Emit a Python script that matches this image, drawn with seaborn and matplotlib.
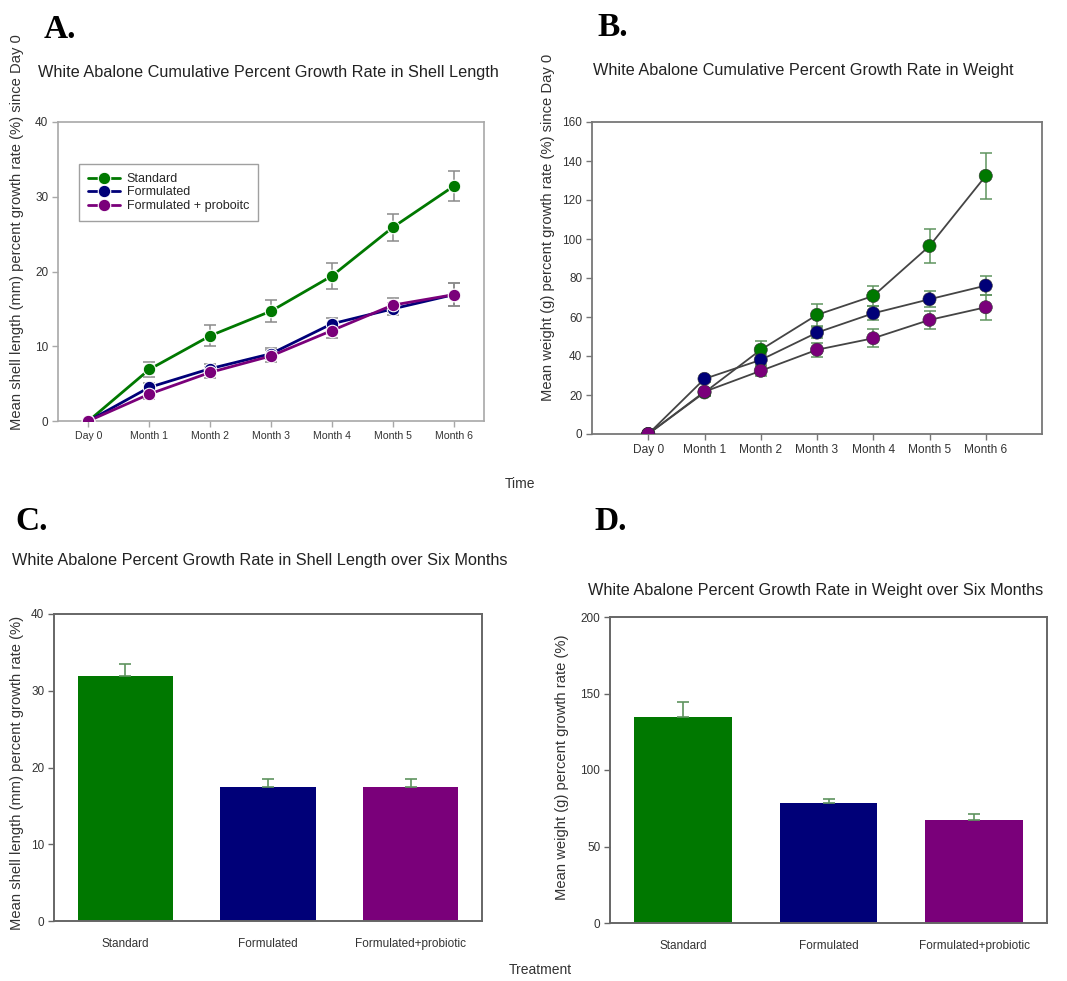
import numpy as np
import pandas as pd
import matplotlib
matplotlib.use("Agg")
import matplotlib.pyplot as plt
import seaborn as sns

# ---- data -------------------------------------------------------------
time_labels = ["Day 0", "Month 1", "Month 2", "Month 3", "Month 4", "Month 5", "Month 6"]
treatments = ["Standard", "Formulated", "Formulated + proboitc"]
bar_labels = ["Standard", "Formulated", "Formulated+probiotic"]

# cumulative % growth in shell length
len_standard = [0, 6.9, 11.4, 14.7, 19.4, 25.9, 31.4]
len_formulated = [0, 4.5, 7.0, 9.0, 13.0, 15.0, 16.9]
len_probiotic = [0, 3.6, 6.5, 8.7, 12.1, 15.5, 16.9]
len_standard_err = [0, 1.0, 1.4, 1.5, 1.8, 1.8, 2.0]
len_formulated_err = [0, 0.6, 0.6, 0.7, 0.8, 0.8, 1.5]
len_probiotic_err = [0, 0.7, 0.7, 0.8, 1.0, 0.9, 1.5]

# cumulative % growth in weight
wt_standard = [0, 21.3, 43.2, 61.1, 70.8, 96.4, 132.4]
wt_formulated = [0, 28.3, 38.0, 52.0, 61.9, 69.1, 76.1]
wt_probiotic = [0, 21.7, 32.4, 43.2, 49.1, 58.5, 65.0]
wt_standard_err = [0, 2.0, 4.5, 5.5, 5.2, 8.7, 11.7]
wt_formulated_err = [0, 1.5, 2.5, 3.0, 3.5, 4.0, 5.0]
wt_probiotic_err = [0, 2.0, 2.5, 3.5, 4.6, 4.7, 6.4]

# six-month totals
six_len = [31.9, 17.5, 17.4]
six_len_err = [1.6, 1.0, 1.1]
six_wt = [134.9, 78.2, 67.1]
six_wt_err = [9.8, 2.8, 3.9]

colors = ["#007800", "#000078", "#7a007a"]

# ---- styling ----------------------------------------------------------
sns.set_theme(style="white")
plt.rcParams["font.family"] = ["Liberation Sans", "DejaVu Sans"]

W, H = 1067, 981
fig = plt.figure(figsize=(W / 100, H / 100), dpi=100)


def rect(x0, y0, x1, y1):
    return [x0 / W, 1 - y1 / H, (x1 - x0) / W, (y1 - y0) / H]


def ftext(x, y, s, **kw):
    fig.text(x / W, 1 - y / H, s, **kw)


def style_axes(ax, edge, lw, xsize=8.5, ysize=8.5):
    for sp in ax.spines.values():
        sp.set_visible(True)
        sp.set_color(edge)
        sp.set_linewidth(lw)
    ax.tick_params(axis="both", which="both", direction="out", length=4,
                   width=1, color=edge, labelcolor="#333333",
                   bottom=True, left=True, top=False, right=False, pad=3)
    ax.tick_params(axis="x", labelsize=xsize)
    ax.tick_params(axis="y", labelsize=ysize)
    ax.set_xlabel("")
    ax.set_ylabel("")


def long_frame(series):
    rows = []
    for name, vals in zip(treatments, series):
        for t, v in zip(time_labels, vals):
            rows.append({"Time": t, "Treatment": name, "value": v})
    return pd.DataFrame(rows)


x_idx = np.arange(len(time_labels))

# ---- A: shell length over time ----------------------------------------
axA = fig.add_axes(rect(58, 122, 484, 421))
dfA = long_frame([len_standard, len_formulated, len_probiotic])
for vals, errs in zip([len_standard, len_formulated, len_probiotic],
                      [len_standard_err, len_formulated_err, len_probiotic_err]):
    axA.errorbar(x_idx[1:], vals[1:], yerr=errs[1:], fmt="none",
                 ecolor="#8a8a8a", elinewidth=1.1, capsize=4, capthick=1.1, zorder=1)
sns.lineplot(data=dfA, x="Time", y="value", hue="Treatment", palette=colors,
             marker="o", markersize=9, markeredgewidth=0.8, linewidth=2.0,
             sort=False, ax=axA, zorder=3)
axA.set_xlim(-0.5, 6.5)
axA.set_ylim(0, 40)
axA.set_yticks([0, 10, 20, 30, 40])
axA.set_xticks(x_idx)
axA.set_xticklabels(time_labels)
style_axes(axA, "#a8a8a8", 1.2, xsize=7.6)
leg = axA.legend(loc="upper left", bbox_to_anchor=(0.035, 0.88), fontsize=9,
                 frameon=True, fancybox=False, edgecolor="#888888",
                 handlelength=2.6, borderpad=0.7, labelspacing=0.12,
                 handletextpad=0.5)
leg.get_frame().set_linewidth(1.0)

# ---- B: weight over time ----------------------------------------------
axB = fig.add_axes(rect(592, 122, 1042, 434))
dfB = long_frame([wt_standard, wt_formulated, wt_probiotic])
sns.lineplot(data=dfB, x="Time", y="value", units="Treatment", estimator=None,
             color="#444444", linewidth=1.3, sort=False, ax=axB, zorder=1)
for vals, errs in zip([wt_standard, wt_formulated, wt_probiotic],
                      [wt_standard_err, wt_formulated_err, wt_probiotic_err]):
    axB.errorbar(x_idx[1:], vals[1:], yerr=errs[1:], fmt="none",
                 ecolor="#5f945f", elinewidth=1.1, capsize=4, capthick=1.1, zorder=2)
sns.scatterplot(data=dfB, x="Time", y="value", hue="Treatment", palette=colors,
                s=90, edgecolor="#333333", linewidth=0.4, ax=axB, zorder=3,
                legend=False)
axB.set_xlim(-1, 7)
axB.set_ylim(0, 160)
axB.set_yticks(np.arange(0, 161, 20))
axB.set_xticks(x_idx)
axB.set_xticklabels(time_labels)
style_axes(axB, "#777777", 1.3, xsize=8.6)

# ---- C / D: six-month bars --------------------------------------------
def bar_panel(box, vals, errs, ylim, yticks):
    ax = fig.add_axes(box)
    dfb = pd.DataFrame({"Treatment": bar_labels, "value": vals})
    sns.barplot(data=dfb, x="Treatment", y="value", hue="Treatment",
                palette=colors, width=0.67, errorbar=None, legend=False,
                saturation=1, edgecolor="none", ax=ax, zorder=2)
    ax.errorbar(np.arange(3), vals, yerr=[np.zeros(3), errs], fmt="none",
                ecolor="#5f945f", elinewidth=1.2, capsize=4, capthick=1.2, zorder=3)
    ax.set_xlim(-0.5, 2.5)
    ax.set_ylim(*ylim)
    ax.set_yticks(yticks)
    style_axes(ax, "#666666", 1.4)
    ax.tick_params(axis="x", length=0, pad=12)
    return ax


axC = bar_panel(rect(54, 614, 482, 921), six_len, six_len_err, (0, 40), [0, 10, 20, 30, 40])
axD = bar_panel(rect(610, 617, 1047, 923), six_wt, six_wt_err, (0, 200), [0, 50, 100, 150, 200])

# ---- titles, axis names, panel letters --------------------------------
tkw = dict(fontsize=11.7, color="#222222", va="center", ha="left")
ftext(38, 72, "White Abalone Cumulative Percent Growth Rate in Shell Length", **tkw)
ftext(593, 70, "White Abalone Cumulative Percent Growth Rate in Weight", **tkw)
ftext(12, 560, "White Abalone Percent Growth Rate in Shell Length over Six Months", **tkw)
ftext(588, 590, "White Abalone Percent Growth Rate in Weight over Six Months", **tkw)

ykw = dict(fontsize=10.6, color="#333333", rotation=90, va="center", ha="center")
ftext(17, 232, "Mean shell length (mm) percent growth rate (%) since Day 0", **ykw)
ftext(548, 227, "Mean weight (g) percent growth rate (%) since Day 0", **ykw)
ftext(17, 773, "Mean shell length (mm) percent growth rate (%)", **ykw)
ftext(562, 767, "Mean weight (g) percent growth rate (%)", **ykw)

ftext(520, 484, "Time", fontsize=10, color="#333333", ha="center", va="center")
ftext(540, 970, "Treatment", fontsize=10, color="#333333", ha="center", va="center")

lkw = dict(fontsize=24, fontweight="bold", family="Liberation Serif",
           color="black", va="center", ha="left")
ftext(44, 30, "A.", **lkw)
ftext(597, 28, "B.", **lkw)
ftext(15, 522, "C.", **lkw)
ftext(594, 522, "D.", **lkw)

fig.savefig("out.png", dpi=100)
